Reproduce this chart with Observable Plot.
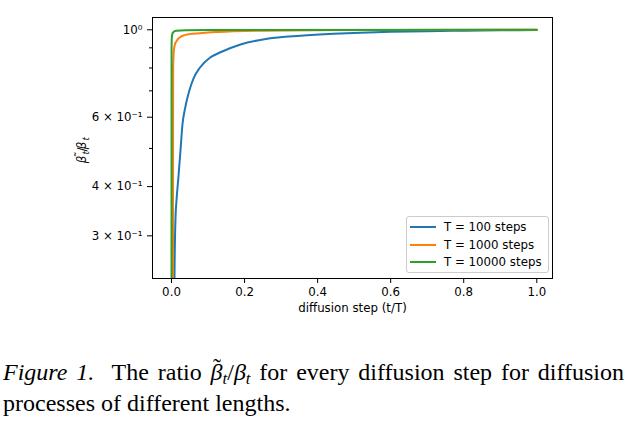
<!DOCTYPE html>
<html><head><meta charset="utf-8">
<script src="https://cdn.jsdelivr.net/npm/d3@7"></script>
<script src="https://cdn.jsdelivr.net/npm/@observablehq/plot@0.6"></script>
<style>
body{margin:0;background:#fff;}
#wrap{position:relative;width:628px;height:432px;overflow:hidden;}
#legend{position:absolute;left:406px;top:216px;width:141px;height:55px;border:1px solid #cccccc;border-radius:3px;background:rgba(255,255,255,0.8);font-family:"DejaVu Sans";font-size:11.8px;color:#000;}
.row{position:absolute;left:0;height:14px;}
.sw{position:absolute;left:3px;width:26px;height:2px;}
.lt{position:absolute;left:37px;white-space:nowrap;line-height:14px;}
#caption{position:absolute;left:3px;top:357px;width:621px;font-family:"Liberation Serif";font-size:24px;line-height:31px;color:#000;text-align:justify;text-align-last:left;}
#caption i{font-style:italic;}
.acc{position:relative;display:inline-block;font-style:italic;}
.acc .tl{position:absolute;left:0.1em;top:-0.2em;font-style:normal;}
.sb{font-size:70%;vertical-align:-0.25em;line-height:0;font-style:italic;}
</style></head><body><div id="wrap"></div>
<script>
const seriesNames = ["T = 100 steps", "T = 1000 steps", "T = 10000 steps"];
const seriesColors = ["#1f77b4", "#ff7f0e", "#2ca02c"];

const t100 = [0.0078, 0.0082, 0.011, 0.0137, 0.019, 0.0246, 0.030, 0.0375, 0.0485, 0.061, 0.0775, 0.105, 0.134, 0.189, 0.262, 0.353, 0.444, 0.517, 0.6, 0.7, 0.8, 0.9, 1.0];
const r100 = [0.21, 0.2355, 0.334, 0.369, 0.423, 0.494, 0.575, 0.634, 0.699, 0.755, 0.801, 0.849, 0.877, 0.918, 0.949, 0.966, 0.977, 0.983, 0.988, 0.992, 0.995, 0.997, 0.999];

const t1000 = [0.0041, 0.0042, 0.0045, 0.0063, 0.009, 0.0137, 0.0274, 0.05, 0.079, 0.12, 0.17, 0.25, 0.4, 0.6, 1.0];
const r1000 = [0.2, 0.5, 0.8, 0.882, 0.915, 0.936, 0.963, 0.975, 0.98, 0.987, 0.991, 0.995, 0.998, 0.999, 1.0];

const t10000 = [0.0, 0.0002, 0.001, 0.003, 0.007, 0.014, 0.04, 0.1, 1.0];
const r10000 = [0.2, 0.9, 0.96, 0.98, 0.99, 0.995, 0.998, 0.999, 1.0];

const xTicks = [0, 0.2, 0.4, 0.6, 0.8, 1.0];
const yTicksLabeled = [1.0, 0.6, 0.4, 0.3];
const yTickLabels = ["10\u2070", "6 \u00d7 10\u207b\u00b9", "4 \u00d7 10\u207b\u00b9", "3 \u00d7 10\u207b\u00b9"];
const yTicksMinor = [0.5, 0.7, 0.8, 0.9];
const xLabel = "diffusion step (t/T)";

const toRows = (ts, rs, name) => ts.map((t, i) => ({t, r: rs[i], name}));
const data = [
  toRows(t100, r100, seriesNames[0]),
  toRows(t1000, r1000, seriesNames[1]),
  toRows(t10000, r10000, seriesNames[2])
];

const W = 628, H = 320;
const chart = Plot.plot({
  width: W, height: H,
  marginLeft: 152, marginRight: 76, marginTop: 17, marginBottom: 42,
  style: {fontFamily: "DejaVu Sans", fontSize: "11.8px", color: "#000", background: "transparent"},
  x: {domain: [-0.052, 1.043]},
  y: {type: "log", domain: [0.2338, 1.0745]},
  color: {domain: seriesNames, range: seriesColors},
  marks: [
    ...data.map((d, i) => Plot.line(d, {x: "t", y: "r", stroke: seriesColors[i], strokeWidth: 2, curve: "monotone-x", clip: true})),
    Plot.frame({stroke: "#000", strokeWidth: 1}),
    Plot.axisX({ticks: xTicks, tickFormat: d => d.toFixed(1), tickSize: 5, tickPadding: 4, label: null}),
    Plot.axisY({ticks: yTicksLabeled, tickFormat: d => yTickLabels[yTicksLabeled.indexOf(d)], tickSize: 5, tickPadding: 5, label: null}),
    Plot.axisY({ticks: yTicksMinor, tickFormat: () => "", tickSize: 3, label: null}),
    Plot.text([xLabel], {text: d => d, frameAnchor: "bottom", dy: 33, fontSize: 11.8})
  ]
});
const wrap = document.getElementById("wrap");
wrap.appendChild(chart);

// y-axis label with math: beta-tilde_t / beta_t, built from measured pieces
const svg = d3.select(chart);
const g = svg.append("g").attr("font-family", "DejaVu Sans").attr("fill", "#000");
const pieces = [
  {s: "\u03b2", size: 11.8, it: true, dy: 0, tilde: true, kern: -0.8},
  {s: "t", size: 8.3, it: true, dy: 2.5, kern: 0},
  {s: "/", size: 11.8, it: false, dy: 0, kern: 0},
  {s: "\u03b2", size: 11.8, it: true, dy: 0, kern: -0.8},
  {s: "t", size: 8.3, it: true, dy: 2.5, kern: 0}
];
let xpos = 0;
pieces.forEach(p => {
  const el = g.append("text").attr("font-size", p.size + "px").attr("font-style", p.it ? "italic" : "normal")
    .attr("x", xpos).attr("y", p.dy).text(p.s);
  const w = el.node().getComputedTextLength();
  if (p.tilde) {
    g.append("text").attr("font-size", "11.8px").attr("x", xpos + w / 2 + 1.5).attr("y", -2.2)
      .attr("text-anchor", "middle").text("\u02dc");
  }
  xpos += w + p.kern;
});
g.attr("transform", `translate(86,${147.5 + xpos / 2}) rotate(-90)`);

// legend
const leg = document.createElement("div");
leg.id = "legend";
const rowY = [3, 20.5, 37.5];
seriesNames.forEach((n, i) => {
  const row = document.createElement("div");
  row.className = "row";
  row.style.top = rowY[i] + "px";
  row.innerHTML = `<div class="sw" style="top:6px;background:${seriesColors[i]}"></div><div class="lt">${n}</div>`;
  leg.appendChild(row);
});
wrap.appendChild(leg);

// caption
const cap = document.createElement("div");
cap.id = "caption";
cap.innerHTML = `<i>Figure 1.</i>&nbsp; The ratio <span class="acc">\u03b2<span class="tl">\u02dc</span></span><span class="sb">t</span>/<i>\u03b2</i><span class="sb">t</span> for every diffusion step for diffusion processes of different lengths.`;
wrap.appendChild(cap);
</script></body></html>
